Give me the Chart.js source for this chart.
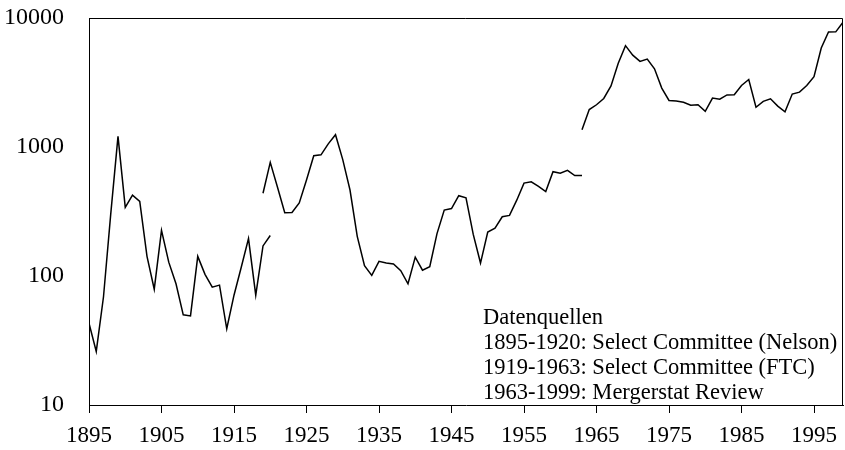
<!DOCTYPE html>
<html lang="de">
<head>
  <meta charset="UTF-8" />
  <title>Fusionen 1895-1999</title>
  <script src="https://cdn.jsdelivr.net/npm/chart.js"></script>
  <style>
    html, body { margin: 0; padding: 0; background: #fff; }
    #wrap { width: 845px; height: 450px; position: relative; }
  </style>
</head>
<body>
  <div id="wrap"><canvas id="mergerChart"></canvas></div>

  <script>
    // Anzahl Fusionen pro Jahr, drei Datenquellen
    const nelsonStart = 1895;
    const nelsonValues = [43, 26, 69, 303, 1208, 340, 423, 379, 142, 79, 226, 128, 87, 50, 49, 142, 103, 82, 85, 39, 71, 117, 195, 71, 171, 206];

    const ftcStart = 1919;
    const ftcValues = [438, 760, 487, 309, 311, 368, 554, 856, 870, 1058, 1245, 799, 464, 203, 120, 101, 130, 126, 124, 110, 87, 140, 111, 118, 213, 324, 333, 419, 404, 210, 126, 219, 235, 288, 295, 387, 525, 537, 495, 451, 644, 626, 660, 600, 600];

    const mergerstatStart = 1963;
    const mergerstatValues = [1361, 1950, 2125, 2377, 2975, 4462, 6107, 5152, 4608, 4801, 4040, 2861, 2297, 2276, 2224, 2106, 2128, 1889, 2395, 2346, 2533, 2543, 3001, 3336, 2032, 2258, 2366, 2074, 1877, 2574, 2663, 2997, 3510, 5848, 7800, 7809, 9278];

    const yearTicks = [1895, 1905, 1915, 1925, 1935, 1945, 1955, 1965, 1975, 1985, 1995];
    const valueTicks = [10, 100, 1000, 10000];

    const sourceNotes = [
      'Datenquellen',
      '1895-1920: Select Committee (Nelson)',
      '1919-1963: Select Committee (FTC)',
      '1963-1999: Mergerstat Review'
    ];

    const toPoints = (start, values) => values.map((v, i) => ({ x: start + i, y: v }));

    const serif = "'Liberation Serif', 'Times New Roman', serif";

    // Rahmen oben/rechts und Quellenangabe
    const framePlugin = {
      id: 'frame',
      afterDraw(chart) {
        const { ctx, chartArea: a } = chart;
        ctx.save();
        ctx.strokeStyle = '#000';
        ctx.lineWidth = 1;
        ctx.beginPath();
        ctx.moveTo(a.left, a.top + 0.5);
        ctx.lineTo(a.right - 0.5, a.top + 0.5);
        ctx.lineTo(a.right - 0.5, a.bottom);
        ctx.stroke();

        ctx.fillStyle = '#000';
        ctx.font = '22.5px ' + serif;
        ctx.textAlign = 'left';
        ctx.textBaseline = 'middle';
        sourceNotes.forEach((line, i) => {
          ctx.fillText(line, a.left + 394, a.top + 300 + i * 25);
        });
        ctx.restore();
      }
    };

    const lineStyle = {
      borderColor: '#000',
      borderWidth: 1.5,
      pointRadius: 0,
      fill: false,
      tension: 0
    };

    new Chart(document.getElementById('mergerChart'), {
      type: 'line',
      data: {
        datasets: [
          { label: 'Nelson', data: toPoints(nelsonStart, nelsonValues), ...lineStyle },
          { label: 'FTC', data: toPoints(ftcStart, ftcValues), ...lineStyle },
          { label: 'Mergerstat', data: toPoints(mergerstatStart, mergerstatValues), ...lineStyle }
        ]
      },
      options: {
        responsive: true,
        maintainAspectRatio: false,
        animation: false,
        layout: { padding: { top: 18, right: 2, left: 0, bottom: 0 } },
        plugins: {
          legend: { display: false },
          tooltip: { enabled: false }
        },
        scales: {
          x: {
            type: 'linear',
            min: 1895,
            max: 1999,
            afterBuildTicks: s => { s.ticks = yearTicks.map(v => ({ value: v })); },
            afterFit: s => { s.height = 45; s.paddingLeft = 0; s.paddingRight = 0; },
            grid: { drawOnChartArea: false, drawTicks: true, tickLength: 8, color: '#000' },
            border: { display: true, color: '#000', width: 1 },
            ticks: {
              color: '#000',
              font: { family: serif, size: 23 },
              padding: 9,
              maxRotation: 0,
              autoSkip: false,
              callback: v => String(v)
            }
          },
          y: {
            type: 'logarithmic',
            min: 10,
            max: 10000,
            afterBuildTicks: s => { s.ticks = valueTicks.map(v => ({ value: v })); },
            afterFit: s => { s.width = 89; s.paddingTop = 0; s.paddingBottom = 0; },
            grid: { drawOnChartArea: false, drawTicks: false },
            border: { display: true, color: '#000', width: 1 },
            ticks: {
              color: '#000',
              font: { family: serif, size: 24 },
              padding: 25,
              autoSkip: false,
              callback: v => String(v)
            }
          }
        }
      },
      plugins: [framePlugin]
    });
  </script>
</body>
</html>
